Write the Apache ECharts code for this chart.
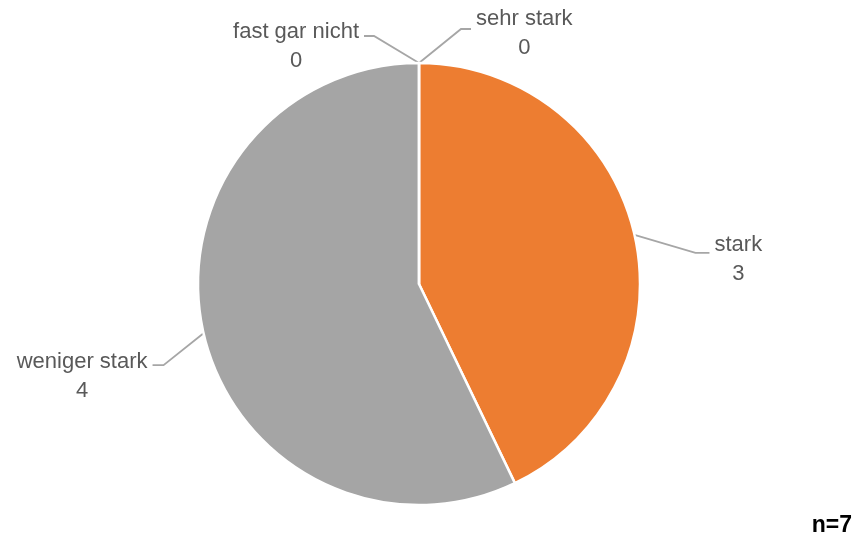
<!DOCTYPE html>
<html>
<head>
<meta charset="utf-8">
<script src="https://cdn.jsdelivr.net/npm/echarts@6/dist/echarts.min.js"></script>
<style>
  html, body { margin: 0; padding: 0; background: #ffffff; }
  #chart { width: 859px; height: 540px; }
</style>
</head>
<body>
<div id="chart"></div>
<script>
// Answer categories and counts
const categories = ['sehr stark', 'stark', 'weniger stark', 'fast gar nicht'];
const values = [0, 3, 4, 0];
const sliceColors = ['#5B9BD5', '#ED7D31', '#A5A5A5', '#FFC000'];
const sampleNote = 'n=7';

// Leader-line shape per label: elbow offset from the rim point, horizontal tail length,
// and how far the text block sits below the tail
const leaderElbow = [[42, -34], [61, 18], [-40, 32], [-45, -27]];
const leaderTail = [10, 14, 11, 10];
const labelDrop = [4, 7, 11, 10];

const CX = 419, CY = 284, R = 221;

const chart = echarts.init(document.getElementById('chart'), null, { renderer: 'canvas' });

const total = values.reduce((s, v) => s + v, 0);

function rimPoint(i) {
  let before = 0;
  for (let k = 0; k < i; k++) before += values[k];
  const frac = (before + values[i] / 2) / (total || 1);
  const ang = (90 - 360 * frac) * Math.PI / 180;
  return [CX + R * Math.cos(ang), CY - R * Math.sin(ang)];
}

chart.setOption({
  animation: false,
  backgroundColor: '#ffffff',
  graphic: [{
    type: 'text',
    right: 7,
    top: 514,
    style: {
      text: sampleNote,
      fontFamily: 'Liberation Sans',
      fontWeight: 'bold',
      fontSize: 23,
      fill: '#000000'
    }
  }],
  series: [{
    type: 'pie',
    center: [CX, CY],
    radius: R,
    startAngle: 90,
    clockwise: true,
    avoidLabelOverlap: false,
    emphasis: { disabled: true },
    itemStyle: { borderColor: '#ffffff', borderWidth: 2.5 },
    label: {
      show: true,
      position: 'outside',
      formatter: '{b}\n{c}',
      fontFamily: 'Liberation Sans',
      fontSize: 22,
      lineHeight: 29,
      color: '#595959',
      align: 'center'
    },
    labelLine: {
      show: true,
      length: 10,
      length2: 10,
      lineStyle: { color: '#A6A6A6', width: 1.8 }
    },
    labelLayout: function (p) {
      const i = p.dataIndex;
      const a = (p.labelLinePoints && p.labelLinePoints[0]) ? p.labelLinePoints[0].slice() : rimPoint(i);
      const side = leaderElbow[i][0] >= 0 ? 1 : -1;
      const b = [a[0] + leaderElbow[i][0], a[1] + leaderElbow[i][1]];
      const e = [b[0] + side * leaderTail[i], b[1]];
      const w = p.labelRect.width;
      return {
        x: e[0] + side * (5 + w / 2),
        y: e[1] + labelDrop[i],
        align: 'center',
        verticalAlign: 'middle',
        labelLinePoints: [a, b, e]
      };
    },
    data: categories.map((name, i) => ({
      name: name,
      value: values[i],
      itemStyle: { color: sliceColors[i] }
    }))
  }]
});
</script>
</body>
</html>
